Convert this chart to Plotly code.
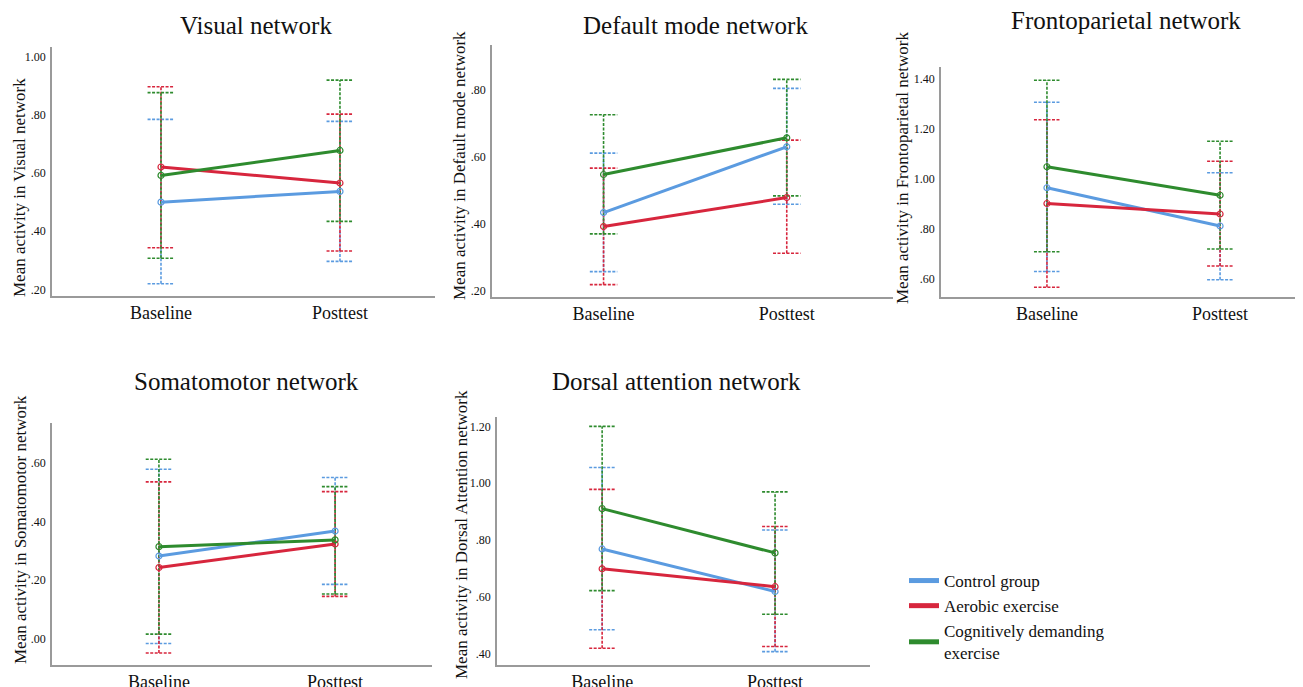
import plotly.graph_objects as go

# ---------------- data ----------------
categories = ["Baseline", "Posttest"]
groups = ["Control group", "Aerobic exercise", "Cognitively demanding<br>exercise"]
colors = ["#5b9be0", "#d7263d", "#2e8b2e"]

networks = ["Visual network", "Default mode network", "Frontoparietal network",
            "Somatomotor network", "Dorsal attention network"]
ytitles = ["Mean activity in Visual network", "Mean activity in Default mode network",
           "Mean activity in Frontoparietal network", "Mean activity in Somatomotor network",
           "Mean activity in Dorsal Attention network"]

# order within each list: Control, Aerobic, Cognitive ; each pair = [Baseline, Posttest]
visual_mean = [[0.500, 0.537], [0.621, 0.566], [0.592, 0.678]]
visual_low = [[0.219, 0.296], [0.343, 0.332], [0.307, 0.434]]
visual_high = [[0.785, 0.778], [0.897, 0.803], [0.877, 0.920]]

default_mean = [[0.433, 0.630], [0.391, 0.478], [0.547, 0.657]]
default_low = [[0.256, 0.458], [0.217, 0.311], [0.369, 0.483]]
default_high = [[0.611, 0.805], [0.566, 0.650], [0.726, 0.832]]

fronto_mean = [[0.964, 0.811], [0.901, 0.859], [1.048, 0.934]]
fronto_low = [[0.629, 0.596], [0.566, 0.651], [0.708, 0.719]]
fronto_high = [[1.306, 1.024], [1.236, 1.070], [1.394, 1.150]]

somato_mean = [[0.282, 0.367], [0.243, 0.323], [0.314, 0.337]]
somato_low = [[-0.015, 0.186], [-0.047, 0.145], [0.017, 0.153]]
somato_high = [[0.577, 0.549], [0.534, 0.501], [0.611, 0.518]]

dorsal_mean = [[0.768, 0.618], [0.698, 0.635], [0.910, 0.754]]
dorsal_low = [[0.483, 0.406], [0.418, 0.424], [0.621, 0.538]]
dorsal_high = [[1.055, 0.835], [0.978, 0.847], [1.200, 0.969]]

visual_ticks = [".20", ".40", ".60", ".80", "1.00"]
default_ticks = [".20", ".40", ".60", ".80"]
fronto_ticks = [".60", ".80", "1.00", "1.20", "1.40"]
somato_ticks = [".00", ".20", ".40", ".60"]
dorsal_ticks = [".40", ".60", ".80", "1.00", "1.20"]

# ---------------- layout / style ----------------
W, H = 1303, 687
OFF = 8  # the page body has an 8px default margin
FONT = "'Liberation Serif', 'Times New Roman', Times, 'DejaVu Serif', serif"
CAP = 0.075  # half-width of error-bar caps, x data units


def fx(px):
    return (px - OFF) / W


def fy(py):
    return 1 - (py - OFF) / H


panels = [
    dict(mean=visual_mean, low=visual_low, high=visual_high, ticks=visual_ticks,
         px=(52, 435), py=(47, 296), xr=(-0.609, 1.531), yr=(0.177, 1.034),
         title_xy=(256, 25), ytitle_xy=(20, 188)),
    dict(mean=default_mean, low=default_low, high=default_high, ticks=default_ticks,
         px=(492, 893), py=(45, 297), xr=(-0.609, 1.580), yr=(0.180, 0.935),
         title_xy=(696, 25), ytitle_xy=(460, 166)),
    dict(mean=fronto_mean, low=fronto_low, high=fronto_high, ticks=fronto_ticks,
         px=(941, 1303), py=(67, 297), xr=(-0.612, 1.479), yr=(0.527, 1.447),
         title_xy=(1126, 20), ytitle_xy=(902, 168)),
    dict(mean=somato_mean, low=somato_low, high=somato_high, ticks=somato_ticks,
         px=(52, 432), py=(423, 665), xr=(-0.607, 1.550), yr=(-0.088, 0.734),
         title_xy=(246, 381), ytitle_xy=(20, 530)),
    dict(mean=dorsal_mean, low=dorsal_low, high=dorsal_high, ticks=dorsal_ticks,
         px=(497, 870), py=(417, 665), xr=(-0.608, 1.549), yr=(0.359, 1.233),
         title_xy=(676, 381), ytitle_xy=(461, 535)),
]

fig = go.Figure()
annotations = []
xpos = list(range(len(categories)))

for i, p in enumerate(panels):
    n = "" if i == 0 else str(i + 1)
    xa, ya = "x" + n, "y" + n
    tickvals = [float(t) for t in p["ticks"]]
    fig.update_layout(**{
        "xaxis" + n: dict(domain=[fx(p["px"][0]), fx(p["px"][1])], range=list(p["xr"]),
                          anchor=ya, tickvals=xpos, ticktext=categories,
                          showline=True, linecolor="#9a9a9a", linewidth=1.5,
                          showgrid=False, zeroline=False, ticks="", ticklen=0,
                          tickfont=dict(family=FONT, size=18, color="#111")),
        "yaxis" + n: dict(domain=[fy(p["py"][1]), fy(p["py"][0])], range=list(p["yr"]),
                          anchor=xa, tickvals=tickvals, ticktext=p["ticks"],
                          showline=True, linecolor="#9a9a9a", linewidth=1.5,
                          showgrid=False, zeroline=False, ticks="outside", ticklen=2,
                          tickcolor="rgba(0,0,0,0)",
                          tickfont=dict(family=FONT, size=12, color="#111")),
    })
    # error bars (dotted)
    for g in range(len(groups)):
        ex, ey = [], []
        for k in xpos:
            lo, hi = p["low"][g][k], p["high"][g][k]
            ex += [k, k, None, k - CAP, k + CAP, None, k - CAP, k + CAP, None]
            ey += [lo, hi, None, hi, hi, None, lo, lo, None]
        fig.add_trace(go.Scatter(x=ex, y=ey, mode="lines", xaxis=xa, yaxis=ya,
                                 line=dict(color=colors[g], width=1.6, dash="3px,1.5px"),
                                 showlegend=False, hoverinfo="skip"))
    # mean lines
    for g in range(len(groups)):
        fig.add_trace(go.Scatter(x=xpos, y=p["mean"][g], mode="lines", xaxis=xa, yaxis=ya,
                                 name=groups[g], legendgroup=groups[g],
                                 line=dict(color=colors[g], width=3),
                                 showlegend=(i == 0)))
        fig.add_trace(go.Scatter(x=xpos, y=p["mean"][g], mode="markers", xaxis=xa, yaxis=ya,
                                 marker=dict(symbol="circle-open", size=6, color=colors[g],
                                             line=dict(width=1.2)),
                                 legendgroup=groups[g], showlegend=False))
    annotations.append(dict(text=networks[i], x=fx(p["title_xy"][0]), y=fy(p["title_xy"][1]),
                            xref="paper", yref="paper", showarrow=False,
                            xanchor="center", yanchor="middle",
                            font=dict(family=FONT, size=25, color="#111")))
    annotations.append(dict(text=ytitles[i], x=fx(p["ytitle_xy"][0]), y=fy(p["ytitle_xy"][1]),
                            xref="paper", yref="paper", showarrow=False, textangle=-90,
                            xanchor="center", yanchor="middle",
                            font=dict(family=FONT, size=17, color="#111")))

fig.update_layout(
    width=W, height=H, margin=dict(l=0, r=0, t=0, b=0),
    paper_bgcolor="white", plot_bgcolor="white",
    annotations=annotations,
    legend=dict(x=fx(904), y=fy(563), xanchor="left", yanchor="top",
                font=dict(family=FONT, size=17, color="#111"),
                bgcolor="rgba(0,0,0,0)", itemwidth=30, tracegroupgap=0,
                itemsizing="constant"),
)

fig.write_html("out.html")
